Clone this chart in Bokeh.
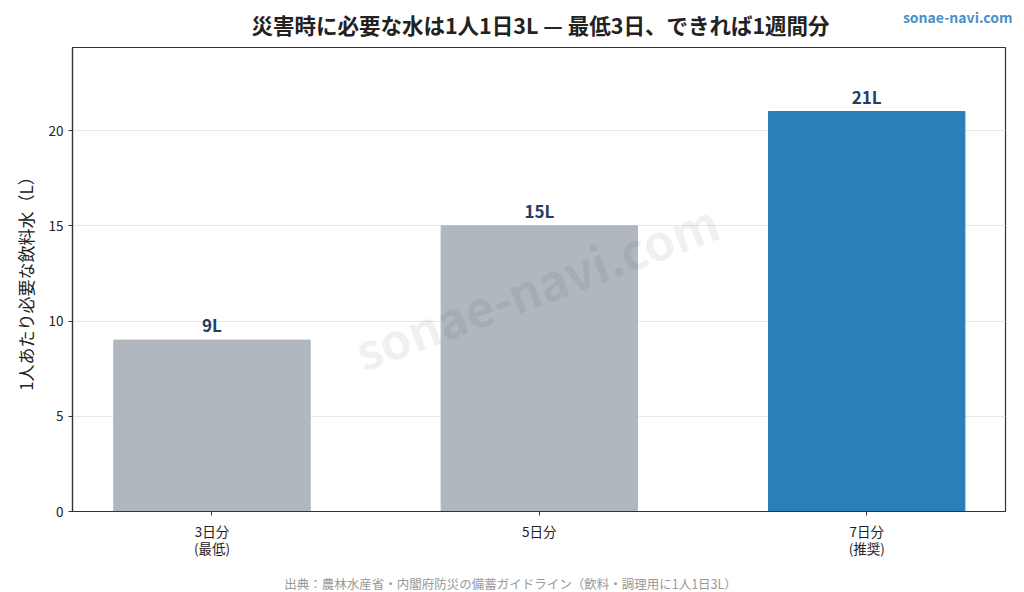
from bokeh.plotting import figure
from bokeh.layouts import column, row
from bokeh.models import ColumnDataSource, FixedTicker, Label, Range1d
from bokeh.core.properties import value
from bokeh.embed import file_html
from bokeh.resources import INLINE

categories = ["3日分\n(最低)", "5日分", "7日分\n(推奨)"]
liters = [9, 15, 21]
bar_labels = ["9L", "15L", "21L"]
bar_colors = ["#b0b7bf", "#b0b7bf", "#2a7fb8"]
y_ticks = [0, 5, 10, 15, 20]
title_text = "災害時に必要な水は1人1日3L — 最低3日、できれば1週間分"
brand_text = "sonae-navi.com"
source_text = "出典：農林水産省・内閣府防災の備蓄ガイドライン（飲料・調理用に1人1日3L）"

FONT = "Noto Sans CJK JP"
xs = list(range(len(categories)))
LEFT, RIGHT = 72, 19


def blank(h, left=0, right=0):
    f = figure(width=1024, height=h, output_backend="svg", toolbar_location=None,
               x_range=Range1d(left, 1024 - right), y_range=Range1d(h, 0),
               x_axis_type=None, y_axis_type=None, min_border=0,
               min_border_left=left, min_border_right=right)
    f.outline_line_color = None
    f.background_fill_color = "white"
    f.border_fill_color = "white"
    f.xgrid.visible = False
    f.ygrid.visible = False
    return f


# header (wrapped in its own row so its frame spans the full width)
hdr = blank(45)
hdr.text(x=[540], y=[24], text=[title_text], text_align="center", text_baseline="middle",
         text_font=value(FONT), text_font_style="bold", text_font_size="21.5px", text_color="#222222")
hdr.text(x=[1012], y=[16], text=[brand_text], text_align="right", text_baseline="middle",
         text_font=value(FONT), text_font_style="bold", text_font_size="14px", text_color="#4a90c8")

# main plot
p = figure(width=1024, height=517, output_backend="svg", toolbar_location=None,
           x_range=Range1d(-0.426, 2.424), y_range=Range1d(0, 24.36),
           min_border_left=LEFT, min_border_right=RIGHT, min_border_top=2, min_border_bottom=51)
p.background_fill_color = "white"
p.border_fill_color = "white"
p.outline_line_color = "#333333"
p.outline_line_width = 1.2

p.add_layout(Label(x=0.99, y=11.9, text=brand_text, angle=20.5, angle_units="deg",
                   text_align="center", text_baseline="middle", text_font=FONT,
                   text_font_style="bold", text_font_size="49px", text_color="#000000",
                   text_alpha=0.06), "center")

src = ColumnDataSource(dict(x=xs, top=liters, color=bar_colors, lab=bar_labels))
p.vbar(x="x", top="top", width=0.6, bottom=0, color="color", source=src)
p.text(x="x", y="top", text="lab", source=src, text_align="center", text_baseline="bottom",
       y_offset=-3, text_font=value(FONT), text_font_style="bold", text_font_size="17px",
       text_color="#253c63")

p.xgrid.visible = False
p.ygrid.grid_line_color = "#e8e8e8"
p.ygrid.grid_line_width = 1

p.xaxis.ticker = FixedTicker(ticks=xs)
p.xaxis.major_label_overrides = {i: c for i, c in zip(xs, categories)}
p.yaxis.ticker = FixedTicker(ticks=y_ticks)
for ax in (p.xaxis, p.yaxis):
    ax.axis_line_color = "#333333"
    ax.axis_line_width = 1.2
    ax.major_tick_line_color = "#333333"
    ax.major_tick_out = 4
    ax.major_tick_in = 0
    ax.minor_tick_line_color = None
    ax.major_label_text_font = FONT
    ax.major_label_text_font_size = "13.5px"
    ax.major_label_text_color = "#222222"
p.xaxis.major_label_standoff = 5
p.xaxis.major_label_text_line_height = 0.85
p.yaxis.major_label_standoff = 5
p.yaxis.axis_label = "1人あたり必要な飲料水（L）"
p.yaxis.axis_label_text_font = FONT
p.yaxis.axis_label_text_font_size = "17px"
p.yaxis.axis_label_text_font_style = "normal"
p.yaxis.axis_label_text_color = "#222222"
p.yaxis.axis_label_standoff = 8

# footer
ftr = blank(30, LEFT, RIGHT)
ftr.x_range = Range1d(LEFT, 1024 - RIGHT)
ftr.text(x=[510], y=[21], text=[source_text], text_align="center", text_baseline="middle",
         text_font=value(FONT), text_font_size="12.5px", text_color="#999999")

layout = column(row(hdr, spacing=0), p, ftr, spacing=0)
open("out.html", "w").write(file_html(layout, INLINE))
